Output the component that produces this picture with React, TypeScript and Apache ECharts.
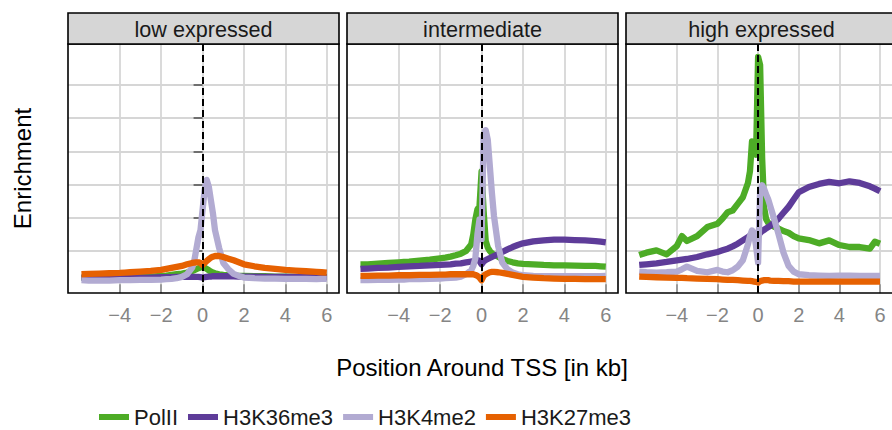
import React, { useEffect, useRef } from "react";
import * as echarts from "echarts";

// Position around TSS (kb)
const X = [-5.85, -5.5, -5, -4.5, -4, -3.75, -3.5, -3, -2.5, -2, -1.75, -1.5, -1.25, -1, -0.75, -0.5, -0.4, -0.3, -0.2, -0.1, 0, 0.1, 0.2, 0.3, 0.4, 0.5, 0.6, 0.8, 1, 1.25, 1.5, 1.75, 2, 2.5, 3, 3.5, 4, 4.5, 5, 5.5, 5.75, 6];

const panelNames = ["low expressed", "intermediate", "high expressed"];
const markNames = ["PolII", "H3K36me3", "H3K4me2", "H3K27me3"];
const markColors = ["#4dac26", "#5e3c99", "#b2abd2", "#e66101"];
const xTicks = [-4, -2, 0, 2, 4, 6];
const yTicks = [1, 2, 3, 4, 5, 6];

// low expressed
const lowPolII = [0.2, 0.2, 0.2, 0.2, 0.21, 0.21, 0.21, 0.22, 0.23, 0.25, 0.26, 0.28, 0.3, 0.32, 0.35, 0.4, 0.42, 0.45, 0.48, 0.5, 0.52, 0.5, 0.46, 0.42, 0.38, 0.35, 0.33, 0.3, 0.28, 0.27, 0.26, 0.25, 0.25, 0.24, 0.24, 0.23, 0.23, 0.22, 0.22, 0.22, 0.22, 0.22];
const lowH3K36 = [0.2, 0.2, 0.2, 0.2, 0.2, 0.2, 0.2, 0.2, 0.2, 0.21, 0.21, 0.21, 0.22, 0.22, 0.22, 0.22, 0.22, 0.22, 0.22, 0.21, 0.2, 0.21, 0.22, 0.23, 0.23, 0.24, 0.24, 0.24, 0.24, 0.24, 0.24, 0.23, 0.23, 0.23, 0.22, 0.22, 0.22, 0.22, 0.21, 0.21, 0.21, 0.21];
const lowH3K4 = [0.12, 0.11, 0.11, 0.11, 0.12, 0.12, 0.12, 0.13, 0.13, 0.14, 0.15, 0.16, 0.18, 0.22, 0.3, 0.5, 0.71, 1.06, 1.41, 1.63, 2.24, 2.84, 3.14, 2.94, 2.54, 2.14, 1.63, 1.09, 0.64, 0.45, 0.31, 0.25, 0.2, 0.18, 0.17, 0.17, 0.16, 0.16, 0.16, 0.15, 0.16, 0.16];
const lowH3K27 = [0.3, 0.31, 0.32, 0.33, 0.34, 0.35, 0.36, 0.38, 0.4, 0.43, 0.46, 0.49, 0.52, 0.55, 0.6, 0.64, 0.65, 0.66, 0.66, 0.64, 0.58, 0.64, 0.7, 0.75, 0.8, 0.83, 0.85, 0.85, 0.82, 0.77, 0.72, 0.66, 0.6, 0.54, 0.49, 0.46, 0.43, 0.41, 0.39, 0.37, 0.36, 0.35];

// intermediate
const midPolII = [0.6, 0.6, 0.62, 0.64, 0.66, 0.67, 0.68, 0.71, 0.74, 0.78, 0.8, 0.83, 0.87, 0.92, 1.0, 1.2, 1.5, 1.95, 2.25, 2.35, 3.4, 2.2, 1.3, 1.1, 1.0, 0.93, 0.88, 0.83, 0.76, 0.7, 0.66, 0.63, 0.61, 0.6, 0.58, 0.57, 0.57, 0.56, 0.55, 0.55, 0.54, 0.53];
const midH3K36 = [0.46, 0.47, 0.49, 0.5, 0.52, 0.53, 0.54, 0.55, 0.57, 0.58, 0.59, 0.6, 0.62, 0.63, 0.66, 0.68, 0.7, 0.72, 0.73, 0.7, 0.6, 0.68, 0.73, 0.76, 0.79, 0.82, 0.85, 0.91, 0.97, 1.05, 1.12, 1.18, 1.23, 1.29, 1.32, 1.34, 1.34, 1.33, 1.32, 1.3, 1.28, 1.26];
const midH3K4 = [0.12, 0.12, 0.13, 0.13, 0.14, 0.14, 0.15, 0.15, 0.16, 0.17, 0.18, 0.19, 0.2, 0.23, 0.3, 0.42, 0.55, 0.78, 1.5, 1.95, 1.35, 4.5, 4.64, 4.35, 3.55, 2.75, 2.05, 1.15, 0.65, 0.45, 0.35, 0.3, 0.27, 0.25, 0.24, 0.24, 0.24, 0.24, 0.24, 0.24, 0.24, 0.25];
const midH3K27 = [0.25, 0.25, 0.26, 0.26, 0.27, 0.27, 0.27, 0.28, 0.28, 0.29, 0.29, 0.3, 0.3, 0.3, 0.3, 0.3, 0.3, 0.28, 0.25, 0.2, 0.12, 0.25, 0.3, 0.33, 0.36, 0.37, 0.37, 0.36, 0.34, 0.31, 0.28, 0.25, 0.22, 0.2, 0.18, 0.17, 0.16, 0.16, 0.15, 0.15, 0.15, 0.15];

// high expressed
const highPolII = [0.88, 0.95, 1.02, 0.9, 1.15, 1.45, 1.3, 1.45, 1.72, 1.82, 1.98, 2.17, 2.22, 2.42, 2.62, 3.05, 3.4, 4.3, 4.2, 3.9, 6.85, 6.6, 3.8, 2.3, 1.95, 1.85, 1.8, 1.73, 1.68, 1.6, 1.55, 1.45, 1.38, 1.33, 1.23, 1.32, 1.18, 1.12, 1.12, 1.07, 1.28, 1.22];
const highH3K36 = [0.58, 0.6, 0.63, 0.67, 0.72, 0.74, 0.76, 0.82, 0.9, 0.97, 1.02, 1.07, 1.14, 1.22, 1.32, 1.42, 1.46, 1.5, 1.52, 1.5, 1.45, 1.55, 1.6, 1.64, 1.68, 1.72, 1.76, 1.86, 1.97, 2.15, 2.33, 2.55, 2.77, 2.93, 3.02, 3.08, 3.04, 3.1, 3.05, 2.95, 2.88, 2.8];
const highH3K4 = [0.38, 0.36, 0.35, 0.36, 0.38, 0.45, 0.53, 0.4, 0.36, 0.43, 0.38, 0.36, 0.42, 0.53, 0.72, 1.2, 1.45, 1.62, 1.55, 1.15, 0.65, 2.84, 2.98, 2.86, 2.7, 2.55, 2.35, 1.95, 1.52, 0.95, 0.55, 0.38, 0.3, 0.27, 0.26, 0.25, 0.26, 0.26, 0.25, 0.25, 0.25, 0.25];
const highH3K27 = [0.23, 0.22, 0.21, 0.2, 0.19, 0.19, 0.18, 0.17, 0.16, 0.15, 0.14, 0.13, 0.13, 0.12, 0.11, 0.1, 0.1, 0.09, 0.08, 0.07, 0.05, 0.09, 0.11, 0.12, 0.12, 0.12, 0.11, 0.1, 0.1, 0.09, 0.09, 0.08, 0.08, 0.08, 0.08, 0.08, 0.08, 0.08, 0.08, 0.08, 0.08, 0.08];

const panelData = [
  [lowPolII, lowH3K36, lowH3K4, lowH3K27],
  [midPolII, midH3K36, midH3K4, midH3K27],
  [highPolII, highH3K36, highH3K4, highH3K27],
];

const FONT = "'Liberation Sans', Arial, Helvetica, sans-serif";
const GRID_LEFT = [68, 347, 626];
const GRID_W = 271;
const GRID_TOP = 44;
const GRID_H = 249;
const STRIP_TOP = 13;

export default function App() {
  const ref = useRef<HTMLDivElement>(null);

  useEffect(() => {
    if (!ref.current) return;
    const chart = echarts.init(ref.current, undefined, { renderer: "svg" });

    const grids = GRID_LEFT.map((l) => ({
      left: l,
      top: GRID_TOP,
      width: GRID_W,
      height: GRID_H,
      show: false,
    }));

    const xAxes = GRID_LEFT.map((_, p) => ({
      type: "value",
      gridIndex: p,
      min: -6.5,
      max: 6.59,
      axisLine: { show: false },
      axisTick: {
        show: true,
        customValues: xTicks,
        length: 9,
        lineStyle: { color: "#8a8a8a", width: 1.6 },
      },
      axisLabel: {
        show: true,
        customValues: xTicks,
        margin: 12,
        color: "#858585",
        fontSize: 20,
        fontFamily: FONT,
        formatter: (v: number) => (v < 0 ? "\u2212" + Math.abs(v) : String(v)),
      },
      splitLine: { show: true, lineStyle: { color: "#d6d6d6", width: 1.8 } },
    }));

    const yAxes = GRID_LEFT.map((_, p) => ({
      type: "value",
      gridIndex: p,
      min: -0.265,
      max: 7.235,
      axisLine: { show: false },
      axisTick: {
        show: p === 0,
        customValues: yTicks,
        length: 9,
        lineStyle: { color: "#555555", width: 1.6 },
      },
      axisLabel: { show: false, customValues: yTicks },
      splitLine: { show: true, lineStyle: { color: "#d6d6d6", width: 1.8 } },
    }));

    const series: any[] = [];
    panelData.forEach((arrs, p) => {
      arrs.forEach((vals, i) => {
        const s: any = {
          type: "line",
          name: markNames[i],
          xAxisIndex: p,
          yAxisIndex: p,
          data: X.map((x, k) => [x, vals[k]]),
          showSymbol: false,
          symbol: "none",
          color: markColors[i],
          lineStyle: { width: 6.3, color: markColors[i], cap: "butt", join: "round" },
          emphasis: { disabled: true },
        };
        if (i === 3) {
          s.markLine = {
            silent: true,
            symbol: ["none", "none"],
            label: { show: false },
            lineStyle: { color: "#000", type: [7, 4], width: 2 },
            data: [{ xAxis: 0 }],
          };
        }
        series.push(s);
      });
    });

    const graphics: any[] = [];
    GRID_LEFT.forEach((l, p) => {
      graphics.push({
        type: "rect",
        z: 10,
        shape: { x: l, y: GRID_TOP, width: GRID_W, height: GRID_H },
        style: { fill: "none", stroke: "#000", lineWidth: 1.6 },
        silent: true,
      });
      graphics.push({
        type: "rect",
        z: 10,
        shape: { x: l, y: STRIP_TOP, width: GRID_W, height: GRID_TOP - STRIP_TOP },
        style: { fill: "#d6d6d6", stroke: "#000", lineWidth: 1.6 },
        silent: true,
      });
      graphics.push({
        type: "text",
        z: 11,
        x: l + GRID_W / 2,
        y: (STRIP_TOP + GRID_TOP) / 2 + 1,
        style: {
          text: panelNames[p],
          fill: "#1a1a1a",
          fontSize: 21.6,
          fontFamily: FONT,
          textAlign: "center",
          textVerticalAlign: "middle",
        },
        silent: true,
      });
    });
    graphics.push({
      type: "text",
      x: 482,
      y: 367,
      style: {
        text: "Position Around TSS [in kb]",
        fill: "#000",
        fontSize: 24,
        fontFamily: FONT,
        textAlign: "center",
        textVerticalAlign: "middle",
      },
      silent: true,
    });
    graphics.push({
      type: "text",
      x: 22,
      y: GRID_TOP + GRID_H / 2,
      rotation: Math.PI / 2,
      style: {
        text: "Enrichment",
        fill: "#000",
        fontSize: 24,
        fontFamily: FONT,
        textAlign: "center",
        textVerticalAlign: "middle",
      },
      silent: true,
    });

    chart.setOption({
      animation: false,
      backgroundColor: "#ffffff",
      grid: grids,
      xAxis: xAxes,
      yAxis: yAxes,
      legend: {
        data: markNames,
        left: 99,
        top: 406,
        padding: 0,
        icon: "rect",
        itemWidth: 30,
        itemHeight: 6,
        itemGap: 10,
        textStyle: { fontSize: 22, color: "#1a1a1a", fontFamily: FONT },
      },
      series,
      graphic: graphics,
    });

    return () => {
      chart.dispose();
    };
  }, []);

  return (
    <div
      ref={ref}
      style={{ position: "absolute", left: 0, top: 0, width: 892, height: 430, background: "#fff" }}
    />
  );
}
